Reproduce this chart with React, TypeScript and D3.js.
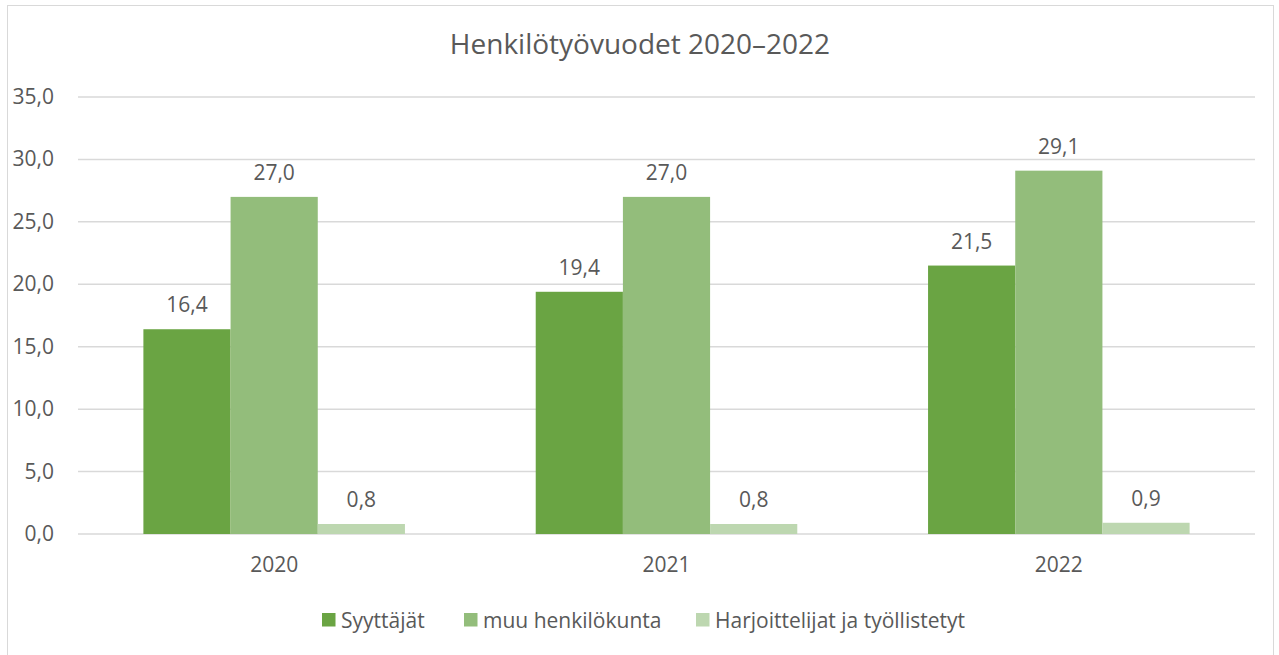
import React from 'react';
import * as d3 from 'd3';

const years = ['2020', '2021', '2022'];
const seriesNames = ['Syyttäjät', 'muu henkilökunta', 'Harjoittelijat ja työllistetyt'];
const seriesColors = ['#6aa443', '#93bd7b', '#bdd7b0'];
const syyttajat = [16.4, 19.4, 21.5];
const muuHenkilokunta = [27.0, 27.0, 29.1];
const harjoittelijat = [0.8, 0.8, 0.9];
const yTicks = [0, 5, 10, 15, 20, 25, 30, 35];

const series = [syyttajat, muuHenkilokunta, harjoittelijat];

const W = 1279;
const H = 655;
const margin = { top: 97, right: 24, bottom: 121, left: 78 };
const FONT = '"Open Sans", "Noto Sans", sans-serif';
const TEXT = '#595959';

const fmt = (v: number) => v.toFixed(1).replace('.', ',');

const App = () => {
  const plotW = W - margin.left - margin.right;
  const plotH = H - margin.top - margin.bottom;

  const x0 = d3.scaleBand<string>().domain(years).range([0, plotW]).padding(0);
  // Excel-like gap width of 150%
  const groupW = (x0.bandwidth() * 3) / 4.5;
  const x1 = d3.scaleBand<string>().domain(seriesNames).range([0, groupW]).padding(0);
  const y = d3.scaleLinear().domain([0, 35]).range([plotH, 0]);

  // legend swatch positions
  const legendX = [322, 464, 696];

  return (
    <svg
      width={W}
      height={H}
      style={{ position: 'absolute', left: 0, top: 0, background: '#fff' }}
      fontFamily={FONT}
    >
      <rect x={7.5} y={5.5} width={1266} height={660} fill="#fff" stroke="#d9d9d9" />
      <text x={640} y={54} textAnchor="middle" fontSize={28} fill={TEXT}>
        Henkilötyövuodet 2020–2022
      </text>
      <g transform={`translate(${margin.left},${margin.top})`}>
        {yTicks.map((t) => (
          <g key={t}>
            <line x1={0} x2={plotW} y1={y(t)} y2={y(t)} stroke="#d9d9d9" strokeWidth={1.5} />
            <text x={-24} y={y(t) + 7} textAnchor="end" fontSize={21} fill={TEXT}>
              {fmt(t)}
            </text>
          </g>
        ))}
        {years.map((yr, i) => {
          const gx = (x0(yr) as number) + (x0.bandwidth() - groupW) / 2;
          return (
            <g key={yr} transform={`translate(${gx},0)`}>
              {series.map((s, j) => {
                const bx = x1(seriesNames[j]) as number;
                return (
                  <g key={j}>
                    <rect
                      x={bx}
                      y={y(s[i])}
                      width={x1.bandwidth()}
                      height={plotH - y(s[i])}
                      fill={seriesColors[j]}
                    />
                    <text
                      x={bx + x1.bandwidth() / 2}
                      y={y(s[i]) - 17}
                      textAnchor="middle"
                      fontSize={21}
                      fill={TEXT}
                    >
                      {fmt(s[i])}
                    </text>
                  </g>
                );
              })}
            </g>
          );
        })}
        {years.map((yr) => (
          <text
            key={yr}
            x={(x0(yr) as number) + x0.bandwidth() / 2}
            y={plotH + 38}
            textAnchor="middle"
            fontSize={21}
            fill={TEXT}
          >
            {yr}
          </text>
        ))}
      </g>
      {seriesNames.map((n, j) => (
        <g key={n} transform={`translate(${legendX[j]},613)`}>
          <rect x={0} y={0} width={13.5} height={13.5} fill={seriesColors[j]} />
          <text x={19} y={14.5} fontSize={21} fill={TEXT}>
            {n}
          </text>
        </g>
      ))}
    </svg>
  );
};

export default App;
